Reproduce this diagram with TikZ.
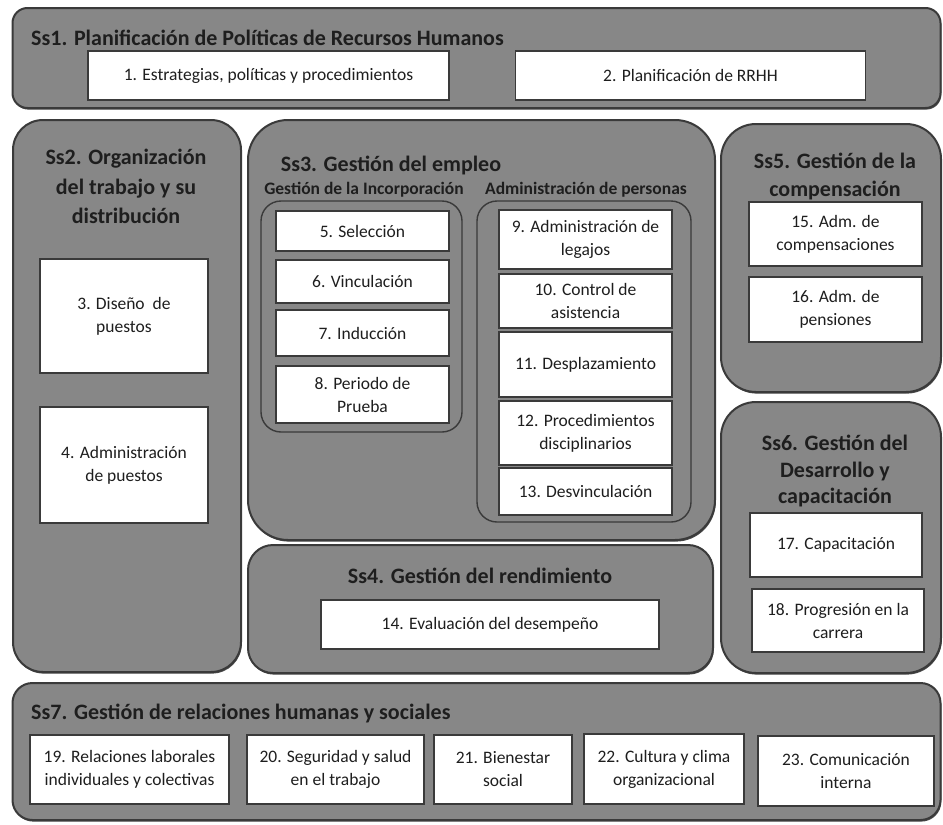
\documentclass[tikz,border=0pt]{standalone}
\usepackage{fontspec}
\setmainfont{Carlito}
\usetikzlibrary{shadows}
\begin{document}
\begin{tikzpicture}[x=1pt,y=-1pt,
  group/.style={draw=edge, line width=2pt, fill=panel, rounded corners=#1, inner sep=0pt,
    drop shadow={shadow xshift=0.8pt, shadow yshift=-1.6pt, fill=edge, opacity=0.9}},
  group/.default=30pt,
  inner/.style={draw=edge, line width=1.4pt, rounded corners=#1, inner sep=0pt},
  inner/.default=20pt,
  item/.style={draw=edge, line width=1.3pt, fill=white, inner sep=0pt, align=center,
    font=\fontsize{17.5}{23}\selectfont, text=ink},
  title/.style={font=\bfseries\fontsize{22}{#1}\selectfont, text=ink, align=center, inner sep=0pt},
  title/.default=29,
  sub/.style={font=\bfseries\fontsize{17.5}{20}\selectfont, text=ink, inner sep=0pt},
]
\definecolor{panel}{HTML}{878787}
\definecolor{edge}{HTML}{3A3A3A}
\definecolor{ink}{HTML}{1E1E1E}
\useasboundingbox[fill=white] (0,0) rectangle (943,825);

% --- Ss1 ---
\node[group=15pt, minimum width=928pt, minimum height=100pt] (ss1) at (476.5,58) {};
\node[title, anchor=west] (ss1t) at (31,37.5) {Ss1. Planificación de Políticas de Recursos Humanos};
\node[item, minimum width=361pt, minimum height=49pt] (b1) at (268.5,75.5) {1. Estrategias, políticas y procedimientos};
\node[item, minimum width=350pt, minimum height=49pt] (b2) at (690.5,75.5) {2. Planificación de RRHH};

% --- Ss2 ---
\node[group=30pt, minimum width=228pt, minimum height=552pt] (ss2) at (127,396) {};
\node[title=29.5] (ss2t) at (126,186.5) {Ss2. Organización\\del trabajo y su\\distribución};
\node[item, minimum width=168pt, minimum height=114pt] (b3) at (124,316) {3. Diseño~ de\\puestos};
\node[item, minimum width=168pt, minimum height=116pt] (b4) at (124,465) {4. Administración\\de puestos};

% --- Ss3 ---
\node[group=40pt, minimum width=467pt, minimum height=420pt] (ss3) at (481.5,330) {};
\node[title] (ss3t) at (391,165) {Ss3. Gestión del empleo};
\node[sub] (inc) at (364,190) {Gestión de la Incorporación};
\node[sub] (adm) at (586,190) {Administración de personas};
\node[inner=20pt, minimum width=201pt, minimum height=231pt] (incbox) at (361.5,316.5) {};
\node[inner=20pt, minimum width=214pt, minimum height=321pt] (admbox) at (584,361.5) {};
\node[item, minimum width=173pt, minimum height=40pt] (b5) at (362.5,231) {5. Selección};
\node[item, minimum width=173pt, minimum height=43pt] (b6) at (362.5,281.5) {6. Vinculación};
\node[item, minimum width=173pt, minimum height=46pt] (b7) at (362.5,333) {7. Inducción};
\node[item, minimum width=173pt, minimum height=57pt] (b8) at (362.5,394.5) {8. Periodo de\\Prueba};
\node[item, minimum width=173pt, minimum height=59pt] (b9) at (585.5,239.5) {9. Administración de\\legajos};
\node[item, minimum width=173pt, minimum height=54pt] (b10) at (585.5,301) {10. Control de\\asistencia};
\node[item, minimum width=173pt, minimum height=65pt] (b11) at (585.5,364.5) {11. Desplazamiento};
\node[item, minimum width=173pt, minimum height=64pt] (b12) at (585.5,433) {12. Procedimientos\\disciplinarios};
\node[item, minimum width=173pt, minimum height=47pt] (b13) at (585.5,491.5) {13. Desvinculación};

% --- Ss4 ---
\node[group=25pt, minimum width=465pt, minimum height=128pt] (ss4) at (480.5,609) {};
\node[title] (ss4t) at (480,576) {Ss4. Gestión del rendimiento};
\node[item, minimum width=338pt, minimum height=49pt] (b14) at (490,624.5) {14. Evaluación del desempeño};

% --- Ss5 ---
\node[group=35pt, minimum width=220pt, minimum height=268pt] (ss5) at (831,258) {};
\node[title=28] (ss5t) at (835,176) {Ss5. Gestión de la\\compensación};
\node[item, minimum width=173pt, minimum height=64pt] (b15) at (835.5,234) {15. Adm. de\\compensaciones};
\node[item, minimum width=173pt, minimum height=65pt] (b16) at (835.5,309.5) {16. Adm. de\\pensiones};

% --- Ss6 ---
\node[group=35pt, minimum width=220pt, minimum height=271pt] (ss6) at (831,537.5) {};
\node[title=26.5] (ss6t) at (835,471) {Ss6. Gestión del\\Desarrollo y\\capacitación};
\node[item, minimum width=172pt, minimum height=64pt] (b17) at (836,545) {17. Capacitación};
\node[item, minimum width=172pt, minimum height=63pt] (b18) at (838,620.5) {18. Progresión en la\\carrera};

% --- Ss7 ---
\node[group=20pt, minimum width=928pt, minimum height=137pt] (ss7) at (476.5,751.5) {};
\node[title, anchor=west] (ss7t) at (31,713) {Ss7. Gestión de relaciones humanas y sociales};
\node[item, minimum width=199pt, minimum height=69pt] (b19) at (129.5,769.5) {19. Relaciones laborales\\individuales y colectivas};
\node[item, minimum width=177pt, minimum height=69pt] (b20) at (335.5,769.5) {20. Seguridad y salud\\en el trabajo};
\node[item, minimum width=138pt, minimum height=69pt] (b21) at (503,769.5) {21. Bienestar\\social};
\node[item, minimum width=160pt, minimum height=70pt] (b22) at (664,769) {22. Cultura y clima\\organizacional};
\node[item, minimum width=176pt, minimum height=70pt] (b23) at (846,771) {23. Comunicación\\interna};
\end{tikzpicture}
\end{document}
